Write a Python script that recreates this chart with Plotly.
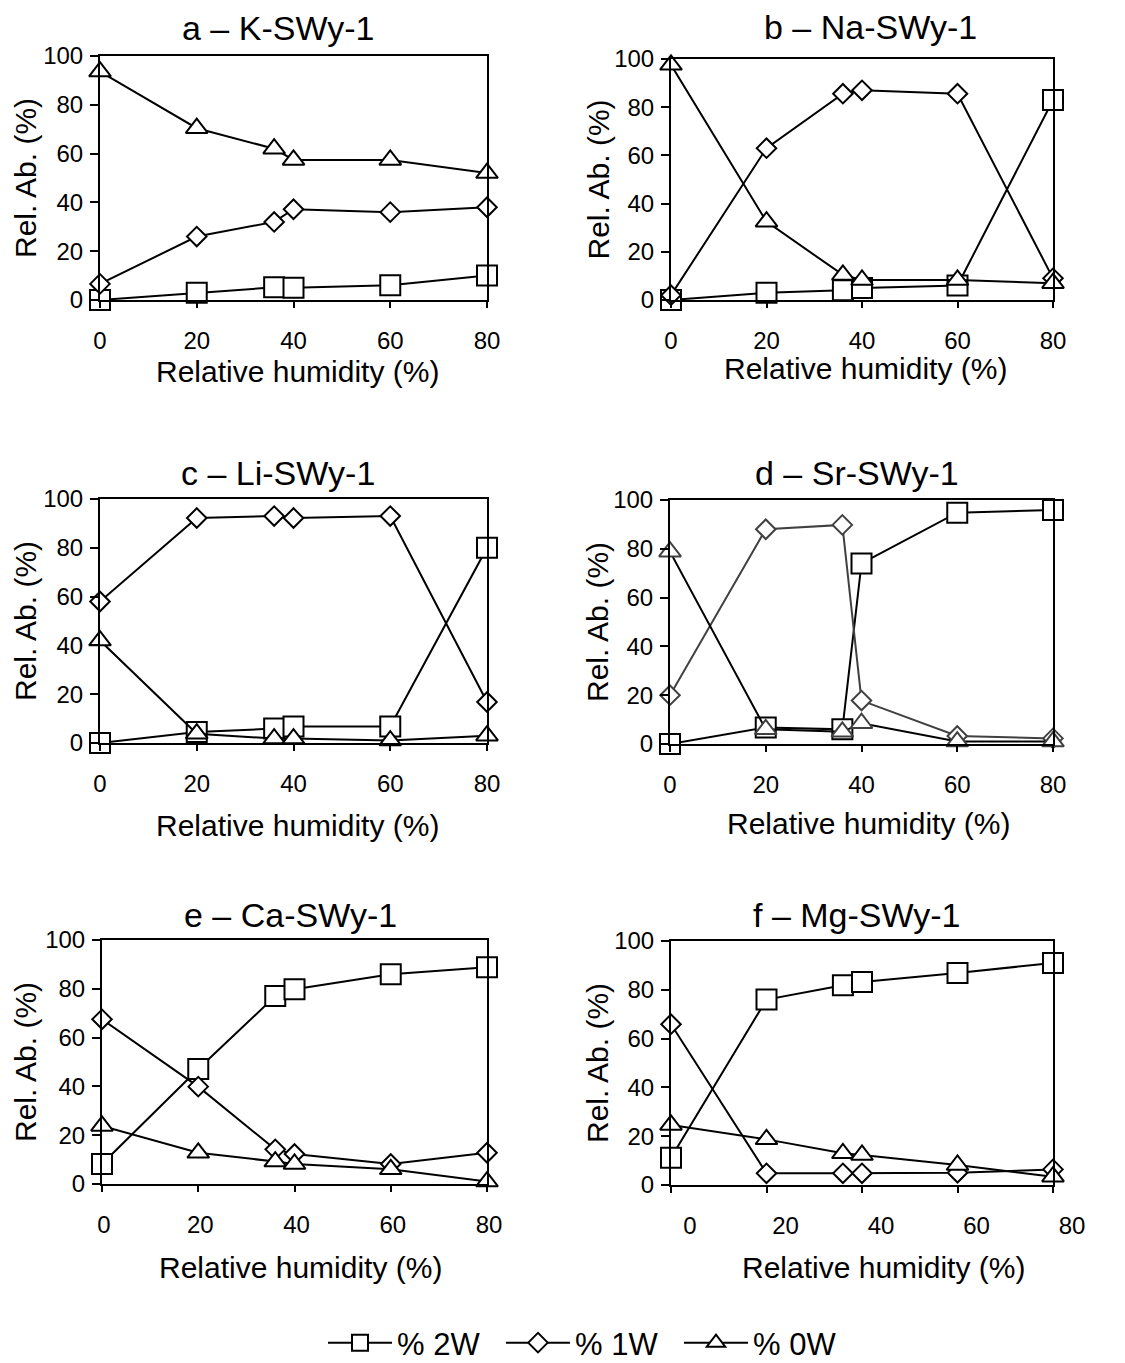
import plotly.graph_objects as go

# ---------------- data ----------------
rh = [0, 20, 36, 40, 60, 80]

panel_titles = ["a – K-SWy-1", "b – Na-SWy-1", "c – Li-SWy-1",
                "d – Sr-SWy-1", "e – Ca-SWy-1", "f – Mg-SWy-1"]

# % 2W
w2_K = [0, 3, 5.2, 5, 6, 10]
w2_Na = [0, 3, 4, 5, 6, 83]
w2_Li = [0, 4.5, 5.9, 6.8, 6.8, 80]
w2_Sr = [0, 6.8, 6, 74, 94.8, 95.9]
w2_Ca = [8.2, 47.1, 77, 79.8, 86, 88.8]
w2_Mg = [11.2, 76, 81.9, 83.2, 86.9, 91]

# % 1W
w1_K = [6.6, 26, 32, 37.2, 36, 38]
w1_Na = [2, 63, 85.6, 87, 85.6, 9]
w1_Li = [58, 92.2, 93, 92.2, 93, 16.8]
w1_Sr = [20, 88, 89.8, 17.8, 3.3, 2.3]
w1_Ca = [67.5, 39.9, 14.2, 12.3, 8.2, 12.8]
w1_Mg = [65.9, 4.8, 4.8, 4.8, 5, 6.4]

# % 0W
w0_K = [93.6, 70.4, 62, 57.4, 57.4, 52]
w0_Na = [97.6, 32.5, 10.4, 8.3, 8.3, 7]
w0_Li = [42, 3.8, 1.8, 1.8, 1, 3]
w0_Sr = [78.8, 6, 5, 8.5, 1, 1]
w0_Ca = [23.8, 12.8, 9.2, 8.2, 6, 1]
w0_Mg = [24.6, 18.7, 13, 12.3, 8.2, 3.4]

series_names = ["% 2W", "% 1W", "% 0W"]
x_ticks = [0, 20, 40, 60, 80]
y_ticks = [0, 20, 40, 60, 80, 100]

panels = [
    (w2_K, w1_K, w0_K),
    (w2_Na, w1_Na, w0_Na),
    (w2_Li, w1_Li, w0_Li),
    (w2_Sr, w1_Sr, w0_Sr),
    (w2_Ca, w1_Ca, w0_Ca),
    (w2_Mg, w1_Mg, w0_Mg),
]

# ---------------- layout geometry (pixels) ----------------
W, H = 1125, 1363
# (left, right, top, bottom) of each plot area
rects = [
    (100, 487, 56, 300),
    (671, 1053, 59, 300),
    (100, 487, 499, 743),
    (670, 1053, 500, 744),
    (102, 487, 940, 1184),
    (671, 1053, 941, 1185),
]
title_pos = [(278, 28), (870, 27), (278, 473), (857, 473), (290, 915), (857, 915)]
xtitle_pos = [(297, 371), (865, 369), (297, 825), (868, 823), (300, 1267), (883, 1267)]
ytitle_x = [25, 598, 25, 597, 25, 597]
xlabel_shift = [0, 0, 0, 0, 2, 19]

FONT = "Liberation Sans, Arial, sans-serif"
GRAY = "#404040"

symbols = ["square", "diamond", "triangle-up"]
msizes = [20, 15, 19]

fig = go.Figure()
annotations = []
layout = {}

for i, (vals, rect) in enumerate(zip(panels, rects)):
    k = "" if i == 0 else str(i + 1)
    xa, ya = "x" + k, "y" + k
    l, r, t, b = rect
    for j, v in enumerate(vals):
        line_col = "black"
        mk_col = "black"
        if i == 3 and j == 1:
            line_col = GRAY
            mk_col = GRAY
        if i == 3 and j == 2:
            mk_col = GRAY
        fig.add_trace(go.Scatter(
            x=rh, y=v, mode="lines+markers", name=series_names[j],
            xaxis=xa, yaxis=ya, showlegend=(i == 0), legendgroup=series_names[j],
            cliponaxis=False,
            line=dict(color=line_col, width=2),
            marker=dict(symbol=symbols[j], size=msizes[j], color="white",
                        line=dict(color=mk_col, width=2)),
        ))
    layout["xaxis" + k] = dict(
        domain=[l / W, r / W], anchor=ya, range=[0, 80], automargin=False,
        tickvals=x_ticks, ticks="outside", ticklen=6, tickwidth=1.5, tickcolor="black",
        showline=True, linecolor="black", linewidth=2, mirror=True,
        showgrid=False, zeroline=False,
        tickfont=dict(family=FONT, size=24, color="black"),
        ticklabelstandoff=12, ticklabelshift=xlabel_shift[i],
    )
    layout["yaxis" + k] = dict(
        domain=[1 - b / H, 1 - t / H], anchor=xa, range=[0, 100], automargin=False,
        tickvals=y_ticks, ticks="outside", ticklen=8, tickwidth=1.5, tickcolor="black",
        showline=True, linecolor="black", linewidth=2, mirror=True,
        showgrid=False, zeroline=False,
        tickfont=dict(family=FONT, size=24, color="black"),
        ticklabelstandoff=2,
    )
    tx, ty = title_pos[i]
    annotations.append(dict(text=panel_titles[i], x=tx / W, y=1 - ty / H, xref="paper", yref="paper",
                            xanchor="center", yanchor="middle", showarrow=False,
                            font=dict(family=FONT, size=34, color="black")))
    xx, xy = xtitle_pos[i]
    annotations.append(dict(text="Relative humidity (%)", x=xx / W, y=1 - xy / H, xref="paper", yref="paper",
                            xanchor="center", yanchor="middle", showarrow=False,
                            font=dict(family=FONT, size=30, color="black")))
    annotations.append(dict(text="Rel. Ab. (%)", x=ytitle_x[i] / W, y=1 - ((t + b) / 2) / H,
                            xref="paper", yref="paper", textangle=-90,
                            xanchor="center", yanchor="middle", showarrow=False,
                            font=dict(family=FONT, size=30, color="black")))

fig.update_layout(
    width=W, height=H,
    margin=dict(l=0, r=0, t=0, b=0, autoexpand=False),
    paper_bgcolor="white", plot_bgcolor="white",
    annotations=annotations,
    showlegend=True,
    legend=dict(orientation="h", x=323 / W, xanchor="left", y=1 - 1343 / H, yanchor="middle",
                font=dict(family=FONT, size=31, color="black"), itemwidth=64,
                entrywidth=99, entrywidthmode="pixels",
                bgcolor="rgba(0,0,0,0)"),
    **layout,
)

fig.write_html("out.html")
